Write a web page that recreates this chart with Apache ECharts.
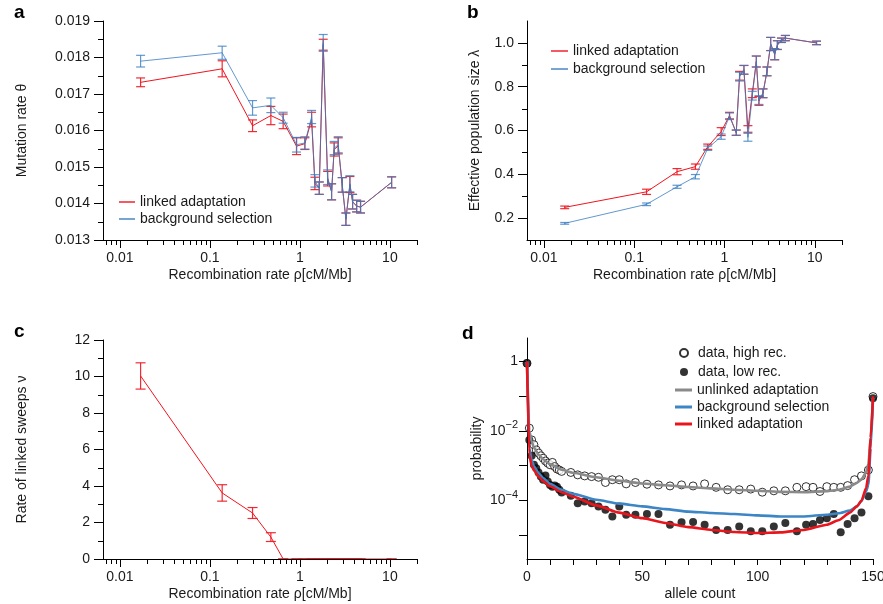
<!DOCTYPE html>
<html><head><meta charset="utf-8">
<script src="https://cdn.jsdelivr.net/npm/echarts@6/dist/echarts.min.js"></script>
<style>html,body{margin:0;padding:0;background:#fff}#c{width:883px;height:604px}</style>
</head><body><div id="c"></div>
<script>
// ---------- data ----------
const rho = [0.017, 0.137, 0.298, 0.476, 0.652, 0.918, 1.136, 1.349, 1.468, 1.641, 1.816, 2.032, 2.25, 2.405, 2.666, 2.953, 3.245, 3.594, 3.85, 4.27, 4.72, 10.45];

const thetaLinked = [0.01732, 0.01769, 0.01613, 0.01641, 0.01625, 0.01557, 0.01564, 0.01630, 0.01455, 0.01442, 0.01835, 0.01468, 0.01432, 0.01548, 0.01558, 0.01451, 0.01357, 0.01452, 0.01405, 0.01393, 0.01390, 0.01458];
const thetaLinkedErr = [0.00012, 0.00022, 0.00016, 0.00025, 0.0002, 0.00023, 0.00016, 0.0002, 0.00017, 0.00017, 0.00015, 0.0002, 0.00022, 0.00018, 0.00022, 0.0002, 0.00017, 0.00022, 0.0002, 0.00016, 0.00016, 0.00015];
const thetaBgs = [0.01790, 0.01813, 0.01662, 0.01669, 0.01635, 0.01561, 0.01566, 0.01637, 0.01462, 0.01442, 0.01840, 0.01472, 0.01432, 0.01552, 0.01561, 0.01451, 0.01357, 0.01454, 0.01405, 0.01393, 0.01390, 0.01458];
const thetaBgsErr = [0.00016, 0.00018, 0.0002, 0.0002, 0.00015, 0.0002, 0.00017, 0.00018, 0.00017, 0.00017, 0.00023, 0.0002, 0.00022, 0.00018, 0.00022, 0.0002, 0.00017, 0.00022, 0.0002, 0.00016, 0.00016, 0.00015];

const lambdaLinked = [0.249, 0.320, 0.412, 0.435, 0.526, 0.595, 0.668, 0.590, 0.850, 0.877, 0.607, 0.770, 0.915, 0.735, 0.770, 0.870, 0.995, 0.948, 0.990, 1.012, 1.022, 1.000];
const lambdaLinkedErr = [0.006, 0.012, 0.014, 0.012, 0.012, 0.018, 0.015, 0.012, 0.02, 0.02, 0.015, 0.02, 0.025, 0.02, 0.02, 0.02, 0.03, 0.025, 0.02, 0.01, 0.012, 0.008];
const lambdaBgs = [0.176, 0.263, 0.343, 0.389, 0.519, 0.572, 0.665, 0.590, 0.846, 0.877, 0.569, 0.759, 0.915, 0.739, 0.770, 0.870, 0.995, 0.948, 0.990, 1.012, 1.022, 1.000];
const lambdaBgsErr = [0.004, 0.006, 0.007, 0.01, 0.01, 0.012, 0.015, 0.012, 0.02, 0.02, 0.018, 0.02, 0.025, 0.02, 0.02, 0.02, 0.03, 0.025, 0.02, 0.01, 0.012, 0.008];

const sweepRate = [10.03, 3.62, 2.52, 1.20, 0, 0, 0, 0, 0, 0, 0, 0, 0, 0, 0, 0, 0, 0, 0, 0, 0, 0];
const sweepRateErr = [0.72, 0.45, 0.30, 0.24, 0, 0, 0, 0, 0, 0, 0, 0, 0, 0, 0, 0, 0, 0, 0, 0, 0, 0];

const alleleCount = [0,1,2,3,4,5,6,7,8,9,10,11,12,13,14,15,19,22,25,28,31,34,37,40,43,47,52,57,62,67,72,77,82,87,92,97,102,107,112,117,121,124,127,130,133,136,139,142,145,148,150];
const highRecLog10 = [-0.05,-1.92,-2.26,-2.40,-2.55,-2.64,-2.72,-2.79,-2.87,-2.93,-2.98,-2.91,-3.03,-3.10,-3.13,-3.17,-3.20,-3.27,-3.30,-3.32,-3.34,-3.49,-3.41,-3.41,-3.53,-3.49,-3.54,-3.56,-3.59,-3.56,-3.59,-3.53,-3.63,-3.70,-3.70,-3.68,-3.77,-3.73,-3.73,-3.63,-3.61,-3.63,-3.75,-3.61,-3.63,-3.63,-3.58,-3.41,-3.30,-3.13,-1.01];
const lowRecLog10 = [-0.05,-2.26,-2.72,-2.98,-3.08,-3.20,-3.32,-3.41,-3.29,-3.46,-3.56,-3.61,-3.58,-3.61,-3.70,-3.78,-3.87,-4.09,-4.04,-4.09,-4.18,-4.28,-4.47,-4.18,-4.42,-4.42,-4.40,-4.40,-4.71,-4.64,-4.63,-4.71,-4.86,-4.86,-4.76,-4.90,-4.90,-4.76,-4.66,-4.90,-4.71,-4.69,-4.57,-4.52,-4.40,-4.93,-4.69,-4.52,-4.36,-3.89,-1.06];

const curveCount = [0,1,2,3,5,7,10,15,20,30,40,50,60,70,80,90,100,110,120,130,135,140,143,145,147,148,149,150];
const unlinkedLog10 = [0,-2.0,-2.3,-2.48,-2.68,-2.82,-2.96,-3.12,-3.21,-3.34,-3.44,-3.52,-3.57,-3.62,-3.66,-3.70,-3.73,-3.76,-3.77,-3.74,-3.70,-3.61,-3.50,-3.40,-3.20,-2.95,-2.2,-1.05];
const bgsLog10 = [0,-2.5,-2.85,-3.02,-3.22,-3.36,-3.53,-3.70,-3.82,-3.99,-4.10,-4.18,-4.26,-4.33,-4.37,-4.40,-4.44,-4.47,-4.47,-4.42,-4.38,-4.30,-4.18,-4.02,-3.75,-3.55,-2.5,-1.05];
const linkedLog10 = [0,-2.7,-3.0,-3.13,-3.32,-3.45,-3.60,-3.77,-3.90,-4.15,-4.36,-4.52,-4.66,-4.78,-4.86,-4.92,-4.95,-4.93,-4.86,-4.71,-4.58,-4.36,-4.18,-4.02,-3.65,-3.3,-2.2,-1.0];

// tick labels
const rhoTicks = [0.01, 0.1, 1, 10];
const rhoMinorTicks = [0.007,0.008,0.009,0.02,0.03,0.04,0.05,0.06,0.07,0.08,0.09,0.2,0.3,0.4,0.5,0.6,0.7,0.8,0.9,2,3,4,5,6,7,8,9,20];
const thetaTicks = [0.013,0.014,0.015,0.016,0.017,0.018,0.019];
const thetaMinorTicks = [0.0135,0.0145,0.0155,0.0165,0.0175,0.0185];
const lambdaTicks = [0.2,0.4,0.6,0.8,1.0];
const lambdaMinorTicks = [0.3,0.5,0.7,0.9];
const sweepTicks = [0,2,4,6,8,10,12];
const sweepMinorTicks = [1,3,5,7,9,11];
const countTicks = [0,10,20,30,40,50,60,70,80,90,100,110,120,130,140,150];
const countLabels = [0,50,100,150];
const probTicks = [1,1e-1,1e-2,1e-3,1e-4,1e-5];
const probLabels = [1,1e-2,1e-4];

// ---------- style ----------
const FONT = "'Liberation Sans', Arial, Helvetica, sans-serif";
const TXT = '#1a1a1a', AX = '#000';
const RED = '#f0141e', BLUE = '#3b7ec2';
const D_GRAY = '#8a8a8a', D_BLUE = '#3d86c6', D_RED = '#e8161c';

// axis ranges
const RHO_MIN = 0.0065, RHO_MAX = 20;
const THETA_MIN = 0.013, THETA_MAX = 0.019;
const LAMBDA_MIN = 0.1, LAMBDA_MAX = 1.1;
const SWEEP_MIN = 0, SWEEP_MAX = 12;

const grids = [
  {left:103, top:21, width:314, height:219},
  {left:527, top:21, width:315, height:219},
  {left:103, top:340, width:314, height:219},
  {left:527, top:338, width:346, height:221}
].map(g => Object.assign({containLabel:false, outerBoundsMode:'none'}, g));

function fmtRho(v){ return v >= 1 ? String(Math.round(v)) : String(parseFloat(v.toPrecision(2))); }
function fmtProb(v){
  const e = Math.round(Math.log10(v));
  if (e === 0) return '{b|1}';
  return '{b|10}{s|\u2212' + (-e) + '}';
}
const lbl = {fontSize:14, color:TXT, fontFamily:FONT};
const nameStyle = {fontSize:14, color:TXT, fontFamily:FONT};

function mainAxis(o){
  const ax = {
    type:o.type, gridIndex:o.grid, min:o.min, max:o.max, z:5,
    axisLine:{show:true, onZero:false, lineStyle:{color:AX, width:1}},
    axisTick:{show:true, customValues:o.ticks, length:o.tickLen || 8, lineStyle:{color:AX, width:1}},
    axisLabel:Object.assign({show:true, customValues:o.labels, formatter:o.fmt, margin:o.margin || 11}, lbl, o.rich ? {rich:o.rich} : {}),
    splitLine:{show:false}, minorTick:{show:false}, minorSplitLine:{show:false},
    name:o.name, nameLocation:'middle', nameGap:o.gap, nameTextStyle:nameStyle
  };
  if (o.type === 'log') ax.logBase = 10;
  return ax;
}

const xAxes = [
  mainAxis({type:'log', grid:0, min:RHO_MIN, max:RHO_MAX, ticks:rhoTicks, labels:rhoTicks, fmt:fmtRho, name:'Recombination rate \u03c1[cM/Mb]', gap:28}),
  mainAxis({type:'log', grid:1, min:RHO_MIN, max:RHO_MAX, ticks:rhoTicks, labels:rhoTicks, fmt:fmtRho, name:'Recombination rate \u03c1[cM/Mb]', gap:28}),
  mainAxis({type:'log', grid:2, min:RHO_MIN, max:RHO_MAX, ticks:rhoTicks, labels:rhoTicks, fmt:fmtRho, name:'Recombination rate \u03c1[cM/Mb]', gap:28}),
  mainAxis({type:'value', grid:3, min:0, max:150, ticks:countTicks, labels:countLabels, fmt:v => String(v), name:'allele count', gap:28, tickLen:6})
];
const yAxes = [
  mainAxis({type:'value', grid:0, min:THETA_MIN, max:THETA_MAX, ticks:thetaTicks, labels:thetaTicks, fmt:v => v.toFixed(3), name:'Mutation rate \u03b8', gap:74, margin:13, tickLen:9}),
  mainAxis({type:'value', grid:1, min:LAMBDA_MIN, max:LAMBDA_MAX, ticks:lambdaTicks, labels:lambdaTicks, fmt:v => v.toFixed(1), name:'Effective population size \u03bb', gap:45, margin:13, tickLen:9}),
  mainAxis({type:'value', grid:2, min:SWEEP_MIN, max:SWEEP_MAX, ticks:sweepTicks, labels:sweepTicks, fmt:v => String(v), name:'Rate of linked sweeps \u03bd', gap:74, margin:13, tickLen:9}),
  mainAxis({type:'log', grid:3, min:2e-6, max:4.8, ticks:probTicks, labels:probLabels, fmt:fmtProb, name:'probability', gap:43, margin:9, tickLen:8,
    rich:{b:{fontSize:14, color:TXT, fontFamily:FONT, lineHeight:22}, s:{fontSize:11, color:TXT, fontFamily:FONT, verticalAlign:'top', lineHeight:12}}})
];

function lineSeries(name, idx, xs, ys, color, width, opacity, z){
  return {type:'line', name, xAxisIndex:idx, yAxisIndex:idx, data:xs.map((x,i)=>[x, ys[i]]),
    symbol:'none', showSymbol:false, lineStyle:{color, width, opacity}, itemStyle:{color}, z, silent:true, animation:false};
}
function errSeries(idx, xs, ys, es, color, cap, opacity, z){
  return {type:'custom', xAxisIndex:idx, yAxisIndex:idx, z, silent:true, animation:false, clip:false,
    data:xs.map((x,i)=>[x, ys[i]-es[i], ys[i]+es[i]]),
    encode:{x:0, y:[1,2]},
    renderItem:function(params, api){
      const x = api.value(0);
      const p1 = api.coord([x, api.value(1)]);
      const p2 = api.coord([x, api.value(2)]);
      const st = {stroke:color, lineWidth:1.2, opacity};
      return {type:'group', children:[
        {type:'line', shape:{x1:p1[0], y1:p1[1], x2:p2[0], y2:p2[1]}, style:st},
        {type:'line', shape:{x1:p1[0]-cap, y1:p1[1], x2:p1[0]+cap, y2:p1[1]}, style:st},
        {type:'line', shape:{x1:p2[0]-cap, y1:p2[1], x2:p2[0]+cap, y2:p2[1]}, style:st}
      ]};
    }
  };
}
// minor ticks placed through the axis scales (short marks outside the axis line)
function minorTickSeries(idx, dir, values, anchor, len){
  return {type:'custom', xAxisIndex:idx, yAxisIndex:idx, z:6, silent:true, animation:false, clip:false,
    data:values.map(v => dir === 'x' ? [v, anchor] : [anchor, v]),
    encode:{x:0, y:1},
    renderItem:function(params, api){
      const p = api.coord([api.value(0), api.value(1)]);
      const shape = dir === 'x'
        ? {x1:Math.round(p[0])+0.5, y1:p[1], x2:Math.round(p[0])+0.5, y2:p[1]+len}
        : {x1:p[0], y1:Math.round(p[1])+0.5, x2:p[0]-len, y2:Math.round(p[1])+0.5};
      return {type:'line', shape, style:{stroke:AX, lineWidth:1}};
    }
  };
}
const pow10 = arr => arr.map(v => Math.pow(10, v));

const series = [
  lineSeries('a|linked adaptation', 0, rho, thetaLinked, RED, 1, 1, 2),
  errSeries(0, rho, thetaLinked, thetaLinkedErr, RED, 4.5, 0.9, 2),
  lineSeries('a|background selection', 0, rho, thetaBgs, BLUE, 1, 0.8, 3),
  errSeries(0, rho, thetaBgs, thetaBgsErr, BLUE, 4.5, 0.8, 3),
  minorTickSeries(0, 'x', rhoMinorTicks, THETA_MIN, 5),
  minorTickSeries(0, 'y', thetaMinorTicks, RHO_MIN, 5),

  lineSeries('b|linked adaptation', 1, rho, lambdaLinked, RED, 1, 1, 2),
  errSeries(1, rho, lambdaLinked, lambdaLinkedErr, RED, 4.5, 0.9, 2),
  lineSeries('b|background selection', 1, rho, lambdaBgs, BLUE, 1, 0.8, 3),
  errSeries(1, rho, lambdaBgs, lambdaBgsErr, BLUE, 4.5, 0.8, 3),
  minorTickSeries(1, 'x', rhoMinorTicks, LAMBDA_MIN, 5),
  minorTickSeries(1, 'y', lambdaMinorTicks, RHO_MIN, 5),

  lineSeries('c|linked sweeps', 2, rho, sweepRate, RED, 1, 1, 3),
  errSeries(2, rho, sweepRate, sweepRateErr, RED, 5, 0.9, 3),
  minorTickSeries(2, 'x', rhoMinorTicks, SWEEP_MIN, 5),
  minorTickSeries(2, 'y', sweepMinorTicks, RHO_MIN, 5),

  {type:'scatter', name:'d|data, high rec.', xAxisIndex:3, yAxisIndex:3, clip:false, silent:true, animation:false,
    data:alleleCount.map((k,i)=>[k, pow10(highRecLog10)[i]]), symbol:'circle', symbolSize:8,
    itemStyle:{color:'#fff', borderColor:'#000', borderWidth:1}, z:2},
  {type:'scatter', name:'d|data, low rec.', xAxisIndex:3, yAxisIndex:3, clip:false, silent:true, animation:false,
    data:alleleCount.map((k,i)=>[k, pow10(lowRecLog10)[i]]), symbol:'circle', symbolSize:8,
    itemStyle:{color:'#000'}, z:3},
  Object.assign(lineSeries('d|unlinked adaptation', 3, curveCount, pow10(unlinkedLog10), D_GRAY, 2.6, 1, 4), {smooth:0.2, smoothMonotone:'x', clip:false}),
  Object.assign(lineSeries('d|background selection', 3, curveCount, pow10(bgsLog10), D_BLUE, 2.6, 1, 5), {smooth:0.2, smoothMonotone:'x', clip:false}),
  Object.assign(lineSeries('d|linked adaptation', 3, curveCount, pow10(linkedLog10), D_RED, 2.6, 1, 6), {smooth:0.2, smoothMonotone:'x', clip:false})
];

const legText = {fontSize:14, color:TXT, fontFamily:FONT};
const legFmt = n => n.slice(2);
const legends = [
  {data:['a|linked adaptation','a|background selection'], left:119, top:195, orient:'vertical', icon:'rect', itemWidth:16, itemHeight:1.4, itemGap:3, formatter:legFmt, textStyle:legText, selectedMode:false, padding:0},
  {data:['b|linked adaptation','b|background selection'], left:551, top:44, orient:'vertical', icon:'rect', itemWidth:17, itemHeight:1.4, itemGap:4, formatter:legFmt, textStyle:legText, selectedMode:false, padding:0},
  {data:['d|data, high rec.','d|data, low rec.'], left:679, top:346, orient:'vertical', itemWidth:8, itemHeight:8, itemGap:5, icon:'circle', formatter:legFmt, textStyle:Object.assign({padding:[0,0,0,5]}, legText), selectedMode:false, padding:0},
  {data:['d|unlinked adaptation','d|background selection','d|linked adaptation'], left:675, top:383, orient:'vertical', icon:'rect', itemWidth:17, itemHeight:3, itemGap:3, formatter:legFmt, textStyle:legText, selectedMode:false, padding:0}
];

const letter = {fontSize:19, fontWeight:'bold', fontFamily:FONT, color:'#000'};
const titles = [
  {text:'a', left:14, top:3, textStyle:letter, padding:0},
  {text:'b', left:467, top:3, textStyle:letter, padding:0},
  {text:'c', left:14, top:322, textStyle:letter, padding:0},
  {text:'d', left:462, top:324, textStyle:letter, padding:0}
];

const chart = echarts.init(document.getElementById('c'), null, {renderer:'canvas'});
chart.setOption({
  animation:false,
  backgroundColor:'#fff',
  textStyle:{fontFamily:FONT},
  title:titles,
  legend:legends,
  grid:grids,
  xAxis:xAxes,
  yAxis:yAxes,
  series:series
});
</script></body></html>
